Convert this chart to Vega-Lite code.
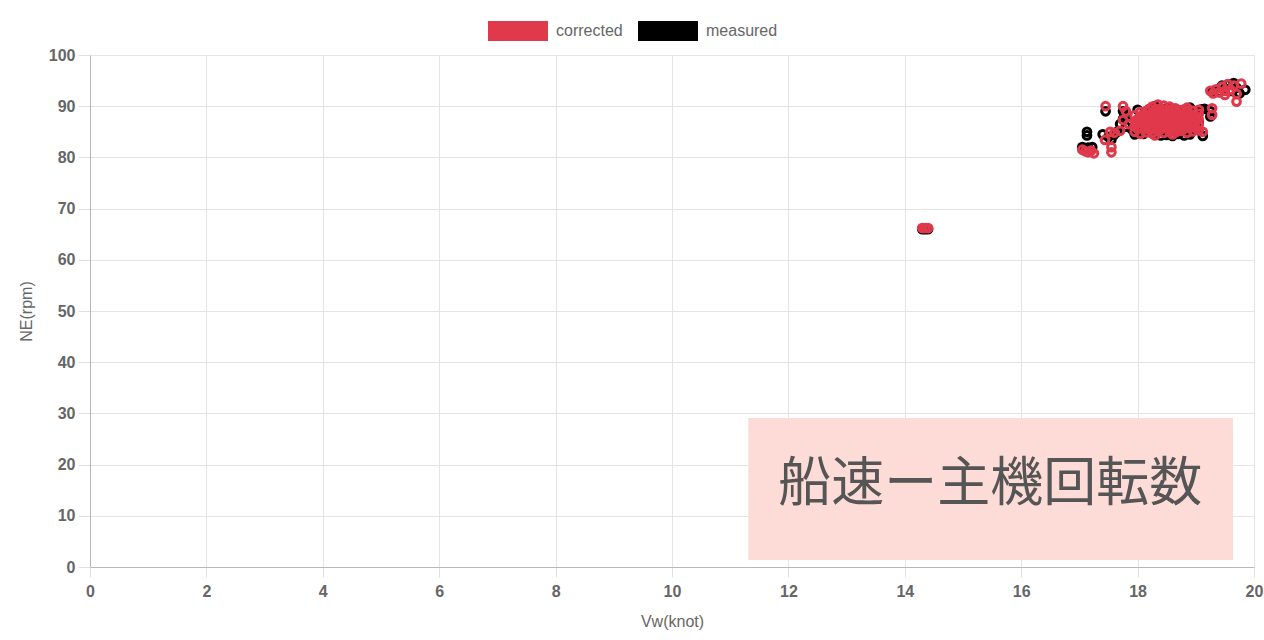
{
  "$schema": "https://vega.github.io/schema/vega-lite/v6.json",
  "width": 1164,
  "height": 512,
  "autosize": {"type": "none"},
  "padding": {"left": 90, "top": 55, "right": 10, "bottom": 73},
  "background": "white",
  "config": {"view": {"stroke": null}, "font": "Liberation Sans"},
  "datasets": {
    "pts": [
      {"series": "measured", "Vw": 14.3, "NE": 66},
      {"series": "measured", "Vw": 14.35, "NE": 66},
      {"series": "measured", "Vw": 14.4, "NE": 66},
      {"series": "measured", "Vw": 17.05, "NE": 82},
      {"series": "measured", "Vw": 17.1, "NE": 81.8},
      {"series": "measured", "Vw": 17.15, "NE": 81.9},
      {"series": "measured", "Vw": 17.22, "NE": 82},
      {"series": "measured", "Vw": 17.13, "NE": 85},
      {"series": "measured", "Vw": 17.13, "NE": 84.3},
      {"series": "measured", "Vw": 17.4, "NE": 84.5},
      {"series": "measured", "Vw": 17.45, "NE": 89},
      {"series": "measured", "Vw": 17.5, "NE": 84},
      {"series": "measured", "Vw": 17.55, "NE": 83.5},
      {"series": "measured", "Vw": 17.6, "NE": 84.5},
      {"series": "measured", "Vw": 17.7, "NE": 86.5},
      {"series": "measured", "Vw": 17.75, "NE": 89},
      {"series": "measured", "Vw": 17.75, "NE": 87.5},
      {"series": "measured", "Vw": 17.65, "NE": 85},
      {"series": "measured", "Vw": 17.8, "NE": 88},
      {"series": "measured", "Vw": 17.8, "NE": 86},
      {"series": "measured", "Vw": 17.9, "NE": 85.5},
      {"series": "measured", "Vw": 17.95, "NE": 84.5},
      {"series": "measured", "Vw": 18.0, "NE": 85.2},
      {"series": "measured", "Vw": 18.05, "NE": 86.8},
      {"series": "measured", "Vw": 18.1, "NE": 84.6},
      {"series": "measured", "Vw": 18.15, "NE": 88.5},
      {"series": "measured", "Vw": 18.2, "NE": 85},
      {"series": "measured", "Vw": 18.25, "NE": 87},
      {"series": "measured", "Vw": 18.3, "NE": 84.5},
      {"series": "measured", "Vw": 18.35, "NE": 89},
      {"series": "measured", "Vw": 18.4, "NE": 84.3},
      {"series": "measured", "Vw": 18.45, "NE": 86.5},
      {"series": "measured", "Vw": 18.5, "NE": 84.4},
      {"series": "measured", "Vw": 18.55, "NE": 88},
      {"series": "measured", "Vw": 18.6, "NE": 84.2},
      {"series": "measured", "Vw": 18.65, "NE": 87.3},
      {"series": "measured", "Vw": 18.7, "NE": 84.6},
      {"series": "measured", "Vw": 18.75, "NE": 89.2},
      {"series": "measured", "Vw": 18.8, "NE": 84.3},
      {"series": "measured", "Vw": 18.85, "NE": 86.8},
      {"series": "measured", "Vw": 18.9, "NE": 84.5},
      {"series": "measured", "Vw": 18.95, "NE": 88.5},
      {"series": "measured", "Vw": 19.0, "NE": 85.5},
      {"series": "measured", "Vw": 19.05, "NE": 87},
      {"series": "measured", "Vw": 19.12, "NE": 84.2},
      {"series": "measured", "Vw": 19.15, "NE": 89.5},
      {"series": "measured", "Vw": 19.25, "NE": 89},
      {"series": "measured", "Vw": 19.25, "NE": 88},
      {"series": "measured", "Vw": 19.1, "NE": 89.4},
      {"series": "measured", "Vw": 18.3, "NE": 90},
      {"series": "measured", "Vw": 18.5, "NE": 89.6},
      {"series": "measured", "Vw": 18.0, "NE": 89.3},
      {"series": "measured", "Vw": 18.2, "NE": 86},
      {"series": "measured", "Vw": 18.4, "NE": 87.7},
      {"series": "measured", "Vw": 18.6, "NE": 86.2},
      {"series": "measured", "Vw": 18.8, "NE": 87.8},
      {"series": "measured", "Vw": 19.0, "NE": 86.2},
      {"series": "measured", "Vw": 18.1, "NE": 87.2},
      {"series": "measured", "Vw": 18.7, "NE": 88.8},
      {"series": "measured", "Vw": 18.9, "NE": 89.7},
      {"series": "measured", "Vw": 19.3, "NE": 93},
      {"series": "measured", "Vw": 19.4, "NE": 92.8},
      {"series": "measured", "Vw": 19.5, "NE": 93.5},
      {"series": "measured", "Vw": 19.55, "NE": 94.2},
      {"series": "measured", "Vw": 19.6, "NE": 93},
      {"series": "measured", "Vw": 19.65, "NE": 94.5},
      {"series": "measured", "Vw": 19.7, "NE": 93.6},
      {"series": "measured", "Vw": 19.85, "NE": 93.2},
      {"series": "measured", "Vw": 19.75, "NE": 92.5},
      {"series": "measured", "Vw": 19.45, "NE": 94},
      {"series": "corrected", "Vw": 14.3, "NE": 66.2},
      {"series": "corrected", "Vw": 14.35, "NE": 66.2},
      {"series": "corrected", "Vw": 14.4, "NE": 66.2},
      {"series": "corrected", "Vw": 17.05, "NE": 81.5},
      {"series": "corrected", "Vw": 17.1, "NE": 81.2},
      {"series": "corrected", "Vw": 17.15, "NE": 81},
      {"series": "corrected", "Vw": 17.2, "NE": 81.3},
      {"series": "corrected", "Vw": 17.25, "NE": 80.8},
      {"series": "corrected", "Vw": 17.45, "NE": 90},
      {"series": "corrected", "Vw": 17.55, "NE": 81},
      {"series": "corrected", "Vw": 17.55, "NE": 82},
      {"series": "corrected", "Vw": 17.44, "NE": 83.4},
      {"series": "corrected", "Vw": 17.53, "NE": 85},
      {"series": "corrected", "Vw": 17.6, "NE": 84.8},
      {"series": "corrected", "Vw": 17.7, "NE": 85.2},
      {"series": "corrected", "Vw": 17.75, "NE": 90},
      {"series": "corrected", "Vw": 17.75, "NE": 87.3},
      {"series": "corrected", "Vw": 17.85, "NE": 86.5},
      {"series": "corrected", "Vw": 17.8, "NE": 89},
      {"series": "corrected", "Vw": 17.95, "NE": 85.0},
      {"series": "corrected", "Vw": 17.95, "NE": 86.1},
      {"series": "corrected", "Vw": 17.95, "NE": 87.0},
      {"series": "corrected", "Vw": 17.95, "NE": 88.2},
      {"series": "corrected", "Vw": 18.0, "NE": 85.6},
      {"series": "corrected", "Vw": 18.0, "NE": 87.5},
      {"series": "corrected", "Vw": 18.05, "NE": 84.6},
      {"series": "corrected", "Vw": 18.05, "NE": 85.7},
      {"series": "corrected", "Vw": 18.05, "NE": 86.9},
      {"series": "corrected", "Vw": 18.05, "NE": 87.9},
      {"series": "corrected", "Vw": 18.05, "NE": 88.9},
      {"series": "corrected", "Vw": 18.1, "NE": 86.4},
      {"series": "corrected", "Vw": 18.1, "NE": 88.4},
      {"series": "corrected", "Vw": 18.15, "NE": 84.9},
      {"series": "corrected", "Vw": 18.15, "NE": 86.0},
      {"series": "corrected", "Vw": 18.15, "NE": 87.1},
      {"series": "corrected", "Vw": 18.15, "NE": 88.0},
      {"series": "corrected", "Vw": 18.15, "NE": 89.1},
      {"series": "corrected", "Vw": 18.2, "NE": 85.4},
      {"series": "corrected", "Vw": 18.2, "NE": 87.5},
      {"series": "corrected", "Vw": 18.2, "NE": 89.5},
      {"series": "corrected", "Vw": 18.25, "NE": 84.7},
      {"series": "corrected", "Vw": 18.25, "NE": 85.8},
      {"series": "corrected", "Vw": 18.25, "NE": 86.8},
      {"series": "corrected", "Vw": 18.25, "NE": 87.9},
      {"series": "corrected", "Vw": 18.25, "NE": 88.8},
      {"series": "corrected", "Vw": 18.25, "NE": 89.9},
      {"series": "corrected", "Vw": 18.3, "NE": 86.5},
      {"series": "corrected", "Vw": 18.3, "NE": 88.6},
      {"series": "corrected", "Vw": 18.35, "NE": 85.1},
      {"series": "corrected", "Vw": 18.35, "NE": 86.2},
      {"series": "corrected", "Vw": 18.35, "NE": 87.2},
      {"series": "corrected", "Vw": 18.35, "NE": 88.3},
      {"series": "corrected", "Vw": 18.35, "NE": 89.3},
      {"series": "corrected", "Vw": 18.35, "NE": 90.3},
      {"series": "corrected", "Vw": 18.4, "NE": 85.5},
      {"series": "corrected", "Vw": 18.4, "NE": 87.6},
      {"series": "corrected", "Vw": 18.4, "NE": 89.6},
      {"series": "corrected", "Vw": 18.45, "NE": 84.8},
      {"series": "corrected", "Vw": 18.45, "NE": 85.9},
      {"series": "corrected", "Vw": 18.45, "NE": 86.9},
      {"series": "corrected", "Vw": 18.45, "NE": 88.0},
      {"series": "corrected", "Vw": 18.45, "NE": 89.0},
      {"series": "corrected", "Vw": 18.45, "NE": 90.1},
      {"series": "corrected", "Vw": 18.5, "NE": 86.5},
      {"series": "corrected", "Vw": 18.5, "NE": 88.5},
      {"series": "corrected", "Vw": 18.55, "NE": 85.0},
      {"series": "corrected", "Vw": 18.55, "NE": 86.1},
      {"series": "corrected", "Vw": 18.55, "NE": 87.1},
      {"series": "corrected", "Vw": 18.55, "NE": 88.1},
      {"series": "corrected", "Vw": 18.55, "NE": 89.2},
      {"series": "corrected", "Vw": 18.55, "NE": 89.9},
      {"series": "corrected", "Vw": 18.6, "NE": 85.5},
      {"series": "corrected", "Vw": 18.6, "NE": 87.5},
      {"series": "corrected", "Vw": 18.6, "NE": 89.5},
      {"series": "corrected", "Vw": 18.65, "NE": 84.9},
      {"series": "corrected", "Vw": 18.65, "NE": 85.8},
      {"series": "corrected", "Vw": 18.65, "NE": 86.9},
      {"series": "corrected", "Vw": 18.65, "NE": 87.9},
      {"series": "corrected", "Vw": 18.65, "NE": 88.9},
      {"series": "corrected", "Vw": 18.65, "NE": 89.6},
      {"series": "corrected", "Vw": 18.7, "NE": 86.4},
      {"series": "corrected", "Vw": 18.7, "NE": 88.4},
      {"series": "corrected", "Vw": 18.75, "NE": 85.2},
      {"series": "corrected", "Vw": 18.75, "NE": 86.3},
      {"series": "corrected", "Vw": 18.75, "NE": 87.2},
      {"series": "corrected", "Vw": 18.75, "NE": 88.2},
      {"series": "corrected", "Vw": 18.75, "NE": 89.2},
      {"series": "corrected", "Vw": 18.8, "NE": 85.6},
      {"series": "corrected", "Vw": 18.8, "NE": 87.6},
      {"series": "corrected", "Vw": 18.8, "NE": 89.4},
      {"series": "corrected", "Vw": 18.85, "NE": 84.8},
      {"series": "corrected", "Vw": 18.85, "NE": 85.9},
      {"series": "corrected", "Vw": 18.85, "NE": 87.0},
      {"series": "corrected", "Vw": 18.85, "NE": 88.0},
      {"series": "corrected", "Vw": 18.85, "NE": 89.0},
      {"series": "corrected", "Vw": 18.85, "NE": 89.7},
      {"series": "corrected", "Vw": 18.9, "NE": 86.5},
      {"series": "corrected", "Vw": 18.9, "NE": 88.5},
      {"series": "corrected", "Vw": 18.95, "NE": 85.1},
      {"series": "corrected", "Vw": 18.95, "NE": 86.2},
      {"series": "corrected", "Vw": 18.95, "NE": 87.1},
      {"series": "corrected", "Vw": 18.95, "NE": 88.1},
      {"series": "corrected", "Vw": 18.95, "NE": 89.1},
      {"series": "corrected", "Vw": 19.0, "NE": 85.7},
      {"series": "corrected", "Vw": 19.0, "NE": 87.7},
      {"series": "corrected", "Vw": 19.05, "NE": 85.3},
      {"series": "corrected", "Vw": 19.05, "NE": 86.4},
      {"series": "corrected", "Vw": 19.05, "NE": 87.4},
      {"series": "corrected", "Vw": 19.05, "NE": 88.5},
      {"series": "corrected", "Vw": 19.05, "NE": 89.3},
      {"series": "corrected", "Vw": 18.3, "NE": 84.3},
      {"series": "corrected", "Vw": 18.6, "NE": 84.5},
      {"series": "corrected", "Vw": 19.12, "NE": 85},
      {"series": "corrected", "Vw": 19.28, "NE": 89.6},
      {"series": "corrected", "Vw": 19.28, "NE": 88.3},
      {"series": "corrected", "Vw": 19.25, "NE": 93},
      {"series": "corrected", "Vw": 19.3, "NE": 92.5},
      {"series": "corrected", "Vw": 19.35, "NE": 93.3},
      {"series": "corrected", "Vw": 19.4, "NE": 92.7},
      {"series": "corrected", "Vw": 19.45, "NE": 93.8},
      {"series": "corrected", "Vw": 19.5, "NE": 93},
      {"series": "corrected", "Vw": 19.55, "NE": 94.3},
      {"series": "corrected", "Vw": 19.6, "NE": 93.2},
      {"series": "corrected", "Vw": 19.65, "NE": 94},
      {"series": "corrected", "Vw": 19.7, "NE": 92.4},
      {"series": "corrected", "Vw": 19.7, "NE": 90.9},
      {"series": "corrected", "Vw": 19.78, "NE": 94.4},
      {"series": "corrected", "Vw": 19.5, "NE": 92.2}
    ]
  },
  "layer": [
    {
      "data": {"values": [{}]},
      "mark": {"type": "rect", "color": "#fddcd8"},
      "encoding": {
        "x": {"datum": 11.31, "type": "quantitative", "scale": {"domain": [0, 20], "nice": false}},
        "x2": {"datum": 19.64},
        "y": {"datum": 29.1, "type": "quantitative", "scale": {"domain": [0, 100], "nice": false}},
        "y2": {"datum": 1.37}
      }
    },
    {
      "data": {"values": [{}]},
      "mark": {"type": "text", "font": "Noto Sans CJK JP", "fontSize": 53, "color": "#555555", "align": "center", "baseline": "middle"},
      "encoding": {
        "x": {"datum": 15.47, "type": "quantitative"},
        "y": {"datum": 16.0, "type": "quantitative"},
        "text": {"value": "船速ー主機回転数"}
      }
    },
    {
      "data": {"name": "pts"},
      "mark": {"type": "point", "shape": "circle", "filled": false, "strokeWidth": 3, "size": 60, "opacity": 1},
      "encoding": {
        "x": {
          "field": "Vw", "type": "quantitative",
          "scale": {"domain": [0, 20], "nice": false},
          "axis": {
            "title": "Vw(knot)", "values": [0, 2, 4, 6, 8, 10, 12, 14, 16, 18, 20], "format": "d", "labelFlush": false,
            "grid": true, "gridColor": "#e4e4e4", "domainColor": "#b8b8b8", "tickColor": "#e0e0e0",
            "tickSize": 10, "labelPadding": 6, "labelFontSize": 16, "labelFontWeight": "bold", "labelColor": "#666666",
            "labelFont": "Liberation Sans",
            "titleFontSize": 16, "titleFontWeight": "normal", "titleColor": "#666666", "titlePadding": 14, "titleFont": "Liberation Sans"
          }
        },
        "y": {
          "field": "NE", "type": "quantitative",
          "scale": {"domain": [0, 100], "nice": false},
          "axis": {
            "title": "NE(rpm)", "values": [0, 10, 20, 30, 40, 50, 60, 70, 80, 90, 100], "format": "d", "labelFlush": false,
            "grid": true, "gridColor": "#e4e4e4", "domainColor": "#b8b8b8", "tickColor": "#e0e0e0",
            "tickSize": 12, "labelPadding": 3, "labelFontSize": 16, "labelFontWeight": "bold", "labelColor": "#666666",
            "labelFont": "Liberation Sans",
            "titleFontSize": 16, "titleFontWeight": "normal", "titleColor": "#666666", "titlePadding": 14, "titleFont": "Liberation Sans"
          }
        },
        "color": {
          "field": "series", "type": "nominal",
          "scale": {"domain": ["corrected", "measured"], "range": ["#e0394b", "#000000"]},
          "legend": {
            "title": null, "orient": "none", "direction": "horizontal",
            "legendX": 388, "legendY": -64,
            "symbolType": "M-1,0H1", "symbolSize": 3600, "symbolStrokeWidth": 20,
            "labelFontSize": 16, "labelColor": "#666666", "labelFont": "Liberation Sans", "labelOffset": -2, "columnPadding": -25
          }
        }
      }
    }
  ]
}
